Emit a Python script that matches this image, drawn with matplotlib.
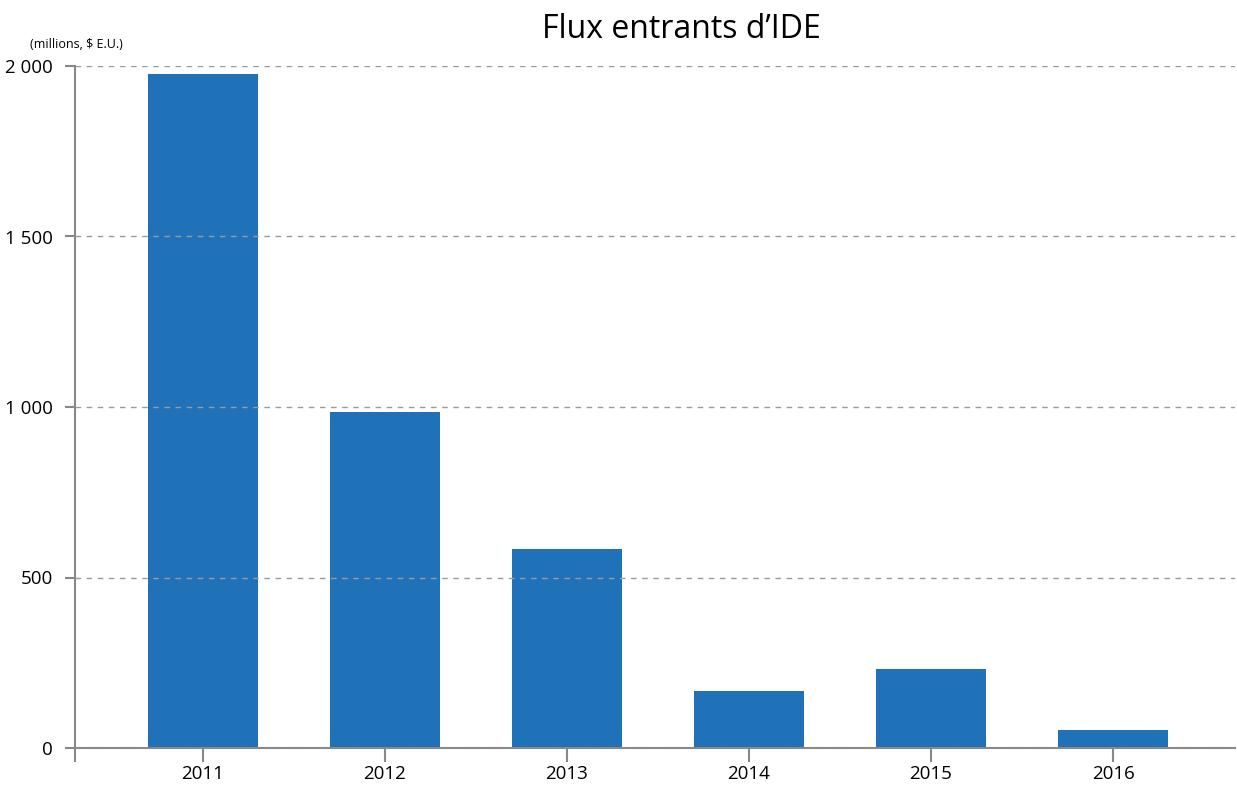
import matplotlib
matplotlib.use("Agg")
import matplotlib.pyplot as plt
import numpy as np

years = ["2011", "2012", "2013", "2014", "2015", "2016"]
flux = [1977, 985, 584, 167, 232, 53]
yticks = [0, 500, 1000, 1500, 2000]
ylabels = ["0", "500", "1 000", "1 500", "2 000"]

plt.rcParams['font.family'] = ['Open Sans', 'DejaVu Sans']

fig = plt.figure(figsize=(12.37, 7.85), dpi=100)
ax = fig.add_axes([75 / 1237, 37 / 785, 1160 / 1237, 682 / 785])

x = np.arange(len(years))
ax.bar(x, flux, width=0.6, color="#1F71B8", zorder=1)

ax.set_xlim(-0.703, 5.67)
ax.set_ylim(0, 2000)
ax.set_xticks(x)
ax.set_xticklabels(years, fontsize=13.5)
ax.set_xticks([-0.703], minor=True)
ax.set_yticks(yticks)
ax.set_yticklabels(ylabels, fontsize=13.5)

ax.grid(axis="y", linestyle=(0, (4, 4)), color="#9a9a9a", linewidth=1, zorder=2)
ax.set_axisbelow(False)

for s in ["top", "right"]:
    ax.spines[s].set_visible(False)
ax.spines["left"].set_color("#888888")
ax.spines["bottom"].set_color("#888888")
ax.spines["left"].set_linewidth(1.5)
ax.spines["bottom"].set_linewidth(1.5)
ax.tick_params(axis="x", which="both", length=10, width=1.5, color="#888888", pad=2)
ax.tick_params(axis="y", length=7, width=1.5, color="#888888", pad=9)

fig.text(681 / 1237, 1 - 30 / 785, "Flux entrants d\u2019IDE", fontsize=23, ha="center", va="center")
fig.text(30 / 1237, 1 - 45 / 785, "(millions, $ E.U.)", fontsize=9, ha="left", va="center")

fig.savefig("out.png", dpi=100)
